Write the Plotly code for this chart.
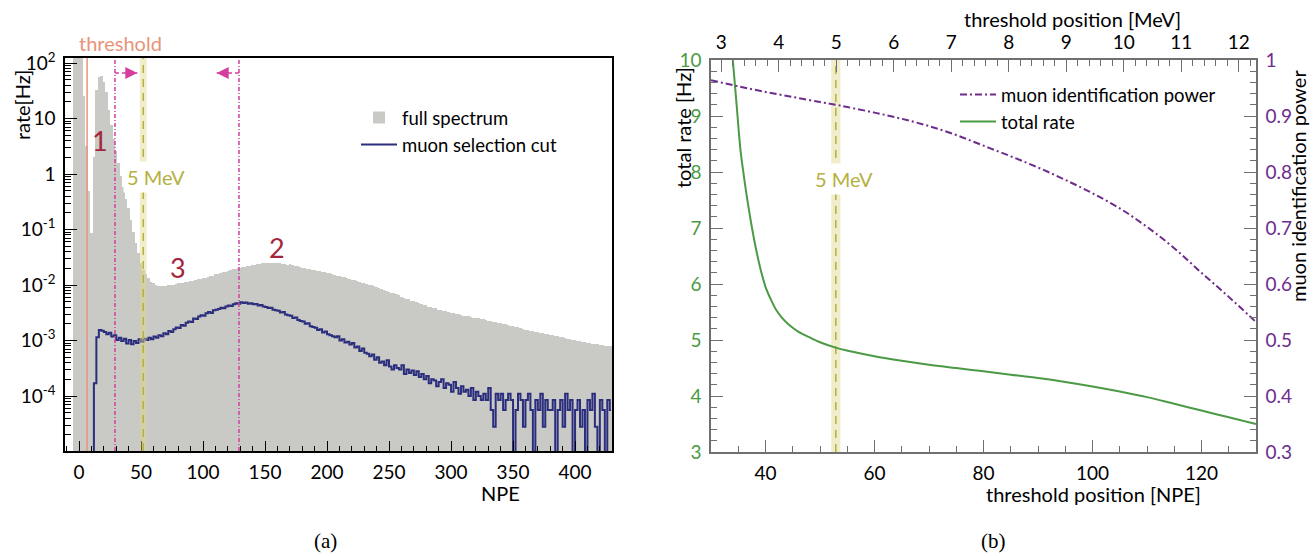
import math
import plotly.graph_objects as go

W, H = 1316, 556
FONT = "Lato"

# ---------------- panel (a): NPE spectrum ----------------
full_first_npe = -4        # centre of first bin
full_bin_npe = 2
full_spectrum = [
    500, 500, 500, 160, 25, 3.2, 0.5, 0.085, 2.0, 32,
    55, 59, 45, 30, 14, 7.6, 4.2, 2.6, 1.6, 0.93,
    0.58, 0.36, 0.24, 0.148, 0.091, 0.058, 0.037, 0.025, 0.019, 0.0158,
    0.0132, 0.0115, 0.0107, 0.0100, 0.0098, 0.0096, 0.0097, 0.0098, 0.0100, 0.0102,
    0.0102, 0.0104, 0.0107, 0.0109, 0.0110, 0.0112, 0.0115, 0.0117, 0.0117, 0.0123,
    0.0126, 0.0129, 0.0132, 0.0135, 0.0141, 0.0145, 0.0148, 0.0155, 0.0158, 0.0166,
    0.0170, 0.0174, 0.0178, 0.0186, 0.0191, 0.0195, 0.0200, 0.0204, 0.0209, 0.0214,
    0.0219, 0.0223, 0.0229, 0.0234, 0.0239, 0.0241, 0.0245, 0.0247, 0.0251, 0.0250,
    0.0252, 0.0246, 0.0248, 0.0245, 0.0240, 0.0242, 0.0234, 0.0236, 0.0229, 0.0224,
    0.0219, 0.0209, 0.0204, 0.0200, 0.0197, 0.0191, 0.0188, 0.0183, 0.0180, 0.0176,
    0.0175, 0.0170, 0.0166, 0.0163, 0.0158, 0.0153, 0.0148, 0.0145, 0.0141, 0.0137,
    0.0132, 0.0127, 0.0123, 0.0121, 0.0116, 0.0114, 0.0111, 0.0110, 0.0106, 0.0102,
    0.0099, 0.0095, 0.0091, 0.0088, 0.0085, 0.0081, 0.0079, 0.0076, 0.0073, 0.0071,
    0.0068, 0.0065, 0.0062, 0.0059, 0.0057, 0.0055, 0.0052, 0.0051, 0.0049, 0.0048,
    0.0046, 0.0044, 0.0043, 0.0041, 0.0040, 0.0038, 0.0038, 0.0036, 0.0035, 0.0034,
    0.00335, 0.00324, 0.00316, 0.00309, 0.00302, 0.00295, 0.00288, 0.00282, 0.00275, 0.00272,
    0.00266, 0.00260, 0.00257, 0.00251, 0.00245, 0.00240, 0.00234, 0.00229, 0.00224, 0.00219,
    0.00214, 0.00209, 0.00204, 0.00200, 0.00195, 0.00191, 0.00184, 0.00180, 0.00176, 0.00172,
    0.00166, 0.00162, 0.00158, 0.00155, 0.00151, 0.00148, 0.00145, 0.00141, 0.00138, 0.00136,
    0.00133, 0.00130, 0.00127, 0.00124, 0.00122, 0.00119, 0.00116, 0.00114, 0.00111, 0.00108,
    0.00106, 0.00104, 0.00102, 0.00100, 0.00098, 0.00095, 0.00093, 0.00091, 0.00090, 0.00088,
    0.00086, 0.00085, 0.00083, 0.00082, 0.00081, 0.00080, 0.00079, 0.00079,
]

muon_first_npe = 11
muon_bin_npe = 2
muon_cut = [
    0, 1.7e-4, 1.15e-3, 1.55e-3, 1.5e-3, 1.42e-3, 1.3e-3, 1.38e-3, 1.18e-3, 1.25e-3,
    1.02e-3, 1.12e-3, 0.98e-3, 1.08e-3, 0.88e-3, 1.02e-3, 0.86e-3, 0.98e-3, 0.9e-3, 1.05e-3,
    0.95e-3, 1.08e-3, 1.02e-3, 1.12e-3, 1.06e-3, 1.18e-3, 1.12e-3, 1.25e-3, 1.2e-3, 1.35e-3,
    1.3e-3, 1.48e-3, 1.42e-3, 1.6e-3, 1.72e-3, 1.68e-3, 1.9e-3, 1.85e-3, 2.1e-3, 2.2e-3,
    2.15e-3, 2.5e-3, 2.45e-3, 2.7e-3, 2.85e-3, 2.8e-3, 3.1e-3, 3.25e-3, 3.15e-3, 3.5e-3,
    3.6e-3, 3.7e-3, 3.9e-3, 3.8e-3, 4.1e-3, 4.3e-3, 4.2e-3, 4.5e-3, 4.7e-3, 4.6e-3,
    4.9e-3, 4.75e-3, 4.85e-3, 4.6e-3, 4.7e-3, 4.5e-3, 4.55e-3, 4.3e-3, 4.35e-3, 4.1e-3,
    4.0e-3, 3.85e-3, 3.9e-3, 3.6e-3, 3.5e-3, 3.45e-3, 3.2e-3, 3.25e-3, 2.95e-3, 2.85e-3,
    2.8e-3, 2.55e-3, 2.6e-3, 2.35e-3, 2.25e-3, 2.2e-3, 2.0e-3, 2.05e-3, 1.8e-3, 1.75e-3,
    1.7e-3, 1.55e-3, 1.6e-3, 1.4e-3, 1.45e-3, 1.3e-3, 1.25e-3, 1.2e-3, 1.15e-3, 1.2e-3,
    1.0e-3, 1.05e-3, 0.92e-3, 0.95e-3, 0.85e-3, 0.9e-3, 0.75e-3, 0.78e-3, 0.65e-3, 0.72e-3,
    0.6e-3, 0.58e-3, 0.52e-3, 0.56e-3, 0.45e-3, 0.5e-3, 0.4e-3, 0.42e-3, 0.36e-3, 0.44e-3,
    0.34e-3, 0.3e-3, 0.36e-3, 0.32e-3, 0.3e-3, 0.36e-3, 0.25e-3, 0.3e-3, 0.26e-3, 0.29e-3,
    0.24e-3, 0.28e-3, 0.22e-3, 0.25e-3, 0.2e-3, 0.23e-3, 0.17e-3, 0.2e-3, 0.19e-3, 0.15e-3,
    0.18e-3, 0.2e-3, 0.14e-3, 0.17e-3, 0.16e-3, 0.12e-3, 0.18e-3, 0.14e-3, 0.11e-3, 0.15e-3,
    0.12e-3, 0.13e-3, 0.1e-3, 0.14e-3, 0.085e-3, 0.12e-3, 0.1e-3, 0.085e-3, 0.11e-3, 0.085e-3,
    0.14e-3, 0.056e-3, 0.028e-3, 0.11e-3, 0.085e-3, 0.11e-3, 0.056e-3, 0.085e-3, 0.11e-3, 0.085e-3,
    0, 0.056e-3, 0.11e-3, 0.085e-3, 0.028e-3, 0.085e-3, 0.11e-3, 0.056e-3, 0, 0.085e-3,
    0.056e-3, 0.11e-3, 0.028e-3, 0.085e-3, 0.056e-3, 0.056e-3, 0.085e-3, 0, 0.056e-3, 0.085e-3,
    0.028e-3, 0.11e-3, 0.056e-3, 0.085e-3, 0, 0.056e-3, 0.085e-3, 0.028e-3, 0.056e-3, 0,
    0.085e-3, 0.056e-3, 0.11e-3, 0.028e-3, 0, 0.085e-3, 0.056e-3, 0, 0.085e-3, 0.056e-3,
]

threshold_npe = 6.5
cut_npe = [29, 129]
cut_arrow_head_npe = [47, 111]
mev5_npe_a = 51.8
mev5_band_a = 5.6
xtick_vals_a = [0, 50, 100, 150, 200, 250, 300, 350, 400]
ytick_vals_a = [1e-4, 1e-3, 1e-2, 1e-1, 1, 10, 100]
ytick_text_a = ["10<sup>-4</sup>", "10<sup>-3</sup>", "10<sup>-2</sup>",
                "10<sup>-1</sup>", "1", "10", "10<sup>2</sup>"]
region_labels = ["1", "3", "2"]
region_npe = [17, 80, 160]
region_rate = [4.1, 0.0203, 0.047]

# ---------------- panel (b): threshold scan ----------------
thr_npe_rate = [33.5, 34, 34.7, 35.4, 36, 37, 38, 39, 40, 41, 42, 43, 44, 45, 46, 48, 50,
                53, 56, 60, 65, 70, 75, 80, 85, 90, 95, 100, 105, 110, 115, 120, 125, 130]
total_rate = [10.6, 10.0, 9.2, 8.4, 7.95, 7.3, 6.75, 6.3, 5.95, 5.72, 5.53, 5.40, 5.30, 5.22,
              5.15, 5.05, 4.96, 4.86, 4.79, 4.71, 4.63, 4.56, 4.50, 4.44, 4.38, 4.32, 4.25,
              4.17, 4.08, 3.98, 3.86, 3.74, 3.62, 3.50]
thr_npe_power = [30, 35, 40, 45, 50, 53, 55, 60, 65, 70, 75, 80, 85, 90, 95, 100, 105,
                 110, 115, 120, 125, 130]
muon_id_power = [0.964, 0.953, 0.943, 0.934, 0.925, 0.920, 0.916, 0.906, 0.895, 0.882,
                 0.866, 0.847, 0.828, 0.808, 0.786, 0.762, 0.735, 0.702, 0.664, 0.620,
                 0.577, 0.532]
mev5_npe_b = 52.9
mev5_band_b = 1.7
mev_ticks = [3, 4, 5, 6, 7, 8, 9, 10, 11, 12]

# ---------------- colours ----------------
GRAY = "#c9c9c5"
NAVY = "#2b2e7d"
MAGENTA = "#d43f9e"
SALMON = "#e8937a"
OLIVE = "#b5b040"
BAND = "rgba(222,216,140,0.45)"
RED = "#a3263a"
GREEN = "#4b9a45"
PURPLE = "#6e2c8c"
AXGRAY = "#707070"


def px(x):
    return x / W


def py(y):
    return 1 - y / H


fig = go.Figure()

# panel (a) traces
full_x = [full_first_npe + full_bin_npe * i for i in range(len(full_spectrum))]
fig.add_trace(go.Bar(x=full_x, y=full_spectrum, width=full_bin_npe, marker_color=GRAY,
                     marker_line_width=0, name="full spectrum", xaxis="x", yaxis="y",
                     legend="legend"))
muon_x = [muon_first_npe + muon_bin_npe * i for i in range(len(muon_cut))]
muon_plot = [v if v > 0 else 1e-7 for v in muon_cut]
fig.add_trace(go.Scatter(x=muon_x, y=muon_plot, mode="lines", line_shape="hvh",
                         line=dict(color=NAVY, width=2), name="muon selection cut",
                         xaxis="x", yaxis="y", legend="legend"))

# panel (b) traces
fig.add_trace(go.Scatter(x=thr_npe_power, y=muon_id_power, mode="lines",
                         line=dict(color=PURPLE, width=2, dash="7px,3px,2px,3px"),
                         line_shape="spline",
                         name="muon identification power", xaxis="x2", yaxis="y3",
                         legend="legend2"))
fig.add_trace(go.Scatter(x=thr_npe_rate, y=total_rate, mode="lines",
                         line=dict(color=GREEN, width=2), line_shape="spline",
                         name="total rate",
                         xaxis="x2", yaxis="y2", legend="legend2"))
fig.add_trace(go.Scatter(x=mev_ticks, y=[None] * len(mev_ticks), mode="lines",
                         showlegend=False, hoverinfo="skip", xaxis="x3", yaxis="y2"))

TS = 19
tickfont = dict(family=FONT, size=TS, color="black")

# axis geometry (pixels)
A_L, A_R, A_T, A_B = 65, 612, 58, 451
B_L, B_R, B_T, B_B = 711, 1256, 60, 452

common = dict(showgrid=False, zeroline=False, automargin=False)

fig.update_layout(
    width=W, height=H, autosize=False,
    margin=dict(l=0, r=0, t=0, b=0, pad=0, autoexpand=False),
    paper_bgcolor="white", plot_bgcolor="white",
    bargap=0, barmode="overlay",
    font=dict(family=FONT, size=18, color="black"),
    xaxis=dict(domain=[px(A_L), px(A_R)], anchor="y", range=[-11.3, 429.8],
               tickvals=xtick_vals_a, ticks="inside", ticklen=10, tickwidth=1.2,
               tickcolor="black", showline=True, linecolor="black", linewidth=1.5,
               mirror=True, tickfont=tickfont,
               minor=dict(ticks="inside", ticklen=5, dtick=10, tick0=0, tickcolor="black",
                          showgrid=False),
               ticklabelstandoff=3, **common),
    yaxis=dict(domain=[py(A_B), py(A_T)], anchor="x", type="log", range=[-4.99, 2.09],
               tickvals=ytick_vals_a, ticktext=ytick_text_a, ticks="inside", ticklen=12,
               tickwidth=1.2, tickcolor="black", showline=True, linecolor="black",
               linewidth=1.5, mirror=True, tickfont=tickfont,
               minor=dict(ticks="inside", ticklen=6, dtick="D1", tickcolor="black",
                          showgrid=False),
               ticklabelstandoff=4, **common),
    xaxis2=dict(domain=[px(B_L), px(B_R)], anchor="y2", range=[30, 130], dtick=20,
                tick0=0, ticks="inside", ticklen=12, tickwidth=1.2, tickcolor=AXGRAY,
                showline=True, linecolor=AXGRAY, linewidth=1.5, tickfont=tickfont,
                minor=dict(ticks="inside", ticklen=6, dtick=5, tick0=0, tickcolor=AXGRAY,
                           showgrid=False),
                ticklabelstandoff=3, **common),
    xaxis3=dict(overlaying="x2", anchor="y2", side="top", range=[2.82, 12.30], dtick=1,
                tick0=0, ticks="inside", ticklen=12, tickwidth=1.2, tickcolor=AXGRAY,
                showline=True, linecolor=AXGRAY, linewidth=1.5, tickfont=tickfont,
                minor=dict(ticks="inside", ticklen=6, dtick=0.2, tick0=0, tickcolor=AXGRAY,
                           showgrid=False),
                ticklabelstandoff=2, **common),
    yaxis2=dict(domain=[py(B_B), py(B_T)], anchor="x2", range=[3, 10], dtick=1, tick0=0,
                ticks="inside", ticklen=12, tickwidth=1.2, tickcolor=AXGRAY,
                showline=True, linecolor=AXGRAY, linewidth=1.5,
                tickfont=dict(family=FONT, size=TS, color=GREEN),
                minor=dict(ticks="inside", ticklen=6, dtick=0.2, tick0=0, tickcolor=AXGRAY,
                           showgrid=False),
                ticklabelstandoff=4, **common),
    yaxis3=dict(overlaying="y2", anchor="x2", side="right", range=[0.3, 1.0], dtick=0.1,
                tick0=0, ticks="inside", ticklen=12, tickwidth=1.2, tickcolor=AXGRAY,
                showline=True, linecolor=AXGRAY, linewidth=1.5,
                tickfont=dict(family=FONT, size=TS, color=PURPLE),
                minor=dict(ticks="inside", ticklen=6, dtick=0.02, tick0=0,
                           tickcolor=AXGRAY, showgrid=False),
                ticklabelstandoff=4, **common),
    legend=dict(x=px(356), y=py(99), xanchor="left", yanchor="top",
                bgcolor="rgba(0,0,0,0)", font=dict(family=FONT, size=18.5),
                itemwidth=36, tracegroupgap=0),
    legend2=dict(x=px(955), y=py(76), xanchor="left", yanchor="top",
                 bgcolor="rgba(0,0,0,0)", font=dict(family=FONT, size=18.5),
                 itemwidth=36, tracegroupgap=0),
)

shapes = []
# panel (a) overlays
shapes.append(dict(type="line", xref="x", yref="y domain", x0=threshold_npe, x1=threshold_npe,
                   y0=0, y1=1, line=dict(color=SALMON, width=1.5), layer="above"))
shapes.append(dict(type="rect", xref="x", yref="y domain",
                   x0=mev5_npe_a - mev5_band_a / 2, x1=mev5_npe_a + mev5_band_a / 2,
                   y0=0, y1=1, fillcolor=BAND, line_width=0, layer="above"))
shapes.append(dict(type="line", xref="x", yref="y domain", x0=mev5_npe_a, x1=mev5_npe_a,
                   y0=0, y1=1, line=dict(color=OLIVE, width=1.5, dash="8px,6px"),
                   layer="above"))
arrow_y = 1 - (73 - A_T) / (A_B - A_T)
for c, h in zip(cut_npe, cut_arrow_head_npe):
    shapes.append(dict(type="line", xref="x", yref="y domain", x0=c, x1=c, y0=0, y1=1,
                       line=dict(color=MAGENTA, width=1.5, dash="4px,2px,1px,2px"),
                       layer="above"))
    shapes.append(dict(type="line", xref="x", yref="y domain", x0=c, x1=h, y0=arrow_y,
                       y1=arrow_y, line=dict(color=MAGENTA, width=1.5, dash="4px,3px"),
                       layer="above"))
# panel (b) overlays
shapes.append(dict(type="rect", xref="x2", yref="y2 domain",
                   x0=mev5_npe_b - mev5_band_b / 2, x1=mev5_npe_b + mev5_band_b / 2,
                   y0=0, y1=1, fillcolor=BAND, line_width=0, layer="below"))
shapes.append(dict(type="line", xref="x2", yref="y2 domain", x0=mev5_npe_b, x1=mev5_npe_b,
                   y0=0, y1=1, line=dict(color=OLIVE, width=1.5, dash="8px,6px"),
                   layer="below"))
fig.update_layout(shapes=shapes)

ann = []
CM = dict(xanchor="center", yanchor="middle", showarrow=False)
# arrow heads
for c, h in zip(cut_npe, cut_arrow_head_npe):
    direction = 1 if h > c else -1
    ann.append(dict(x=h, y=arrow_y, xref="x", yref="y domain", text="", showarrow=True,
                    ax=-10 * direction, ay=0, axref="pixel", ayref="pixel",
                    arrowhead=2, arrowsize=1.6, arrowwidth=1.5, arrowcolor=MAGENTA,
                    standoff=0))
# region labels
for t, xv, yv in zip(region_labels, region_npe, region_rate):
    ann.append(dict(x=xv, y=math.log10(yv), xref="x", yref="y", text=t,
                    font=dict(family=FONT, size=27, color=RED), **CM))
ann.append(dict(x=62, y=-0.05, xref="x", yref="y", text="5 MeV",
                bgcolor="white", borderpad=3, font=dict(family=FONT, size=20, color=OLIVE),
                **CM))
ann.append(dict(x=54.4, y=7.875, xref="x2", yref="y2", text="5 MeV",
                bgcolor="white", borderpad=3, font=dict(family=FONT, size=20, color=OLIVE),
                **CM))
ann.append(dict(x=px(120), y=py(43), xref="paper", yref="paper", text="threshold",
                font=dict(family=FONT, size=20, color=SALMON), **CM))
# axis titles
TT = 20
ann.append(dict(x=px(22), y=py(105), xref="paper", yref="paper", text="rate[Hz]",
                textangle=-90, font=dict(family=FONT, size=TT), **CM))
ann.append(dict(x=px(500), y=py(493), xref="paper", yref="paper", text="NPE",
                borderpad=0, font=dict(family=FONT, size=TT), **CM))
ann.append(dict(x=px(1093), y=py(494), xref="paper", yref="paper",
                text="threshold position [NPE]", borderpad=0,
                font=dict(family=FONT, size=TT), **CM))
ann.append(dict(x=px(1072), y=py(19), xref="paper", yref="paper",
                text="threshold position [MeV]", font=dict(family=FONT, size=TT), **CM))
ann.append(dict(x=px(683), y=py(128), xref="paper", yref="paper", text="total rate [Hz]",
                textangle=-90, font=dict(family=FONT, size=TT), **CM))
ann.append(dict(x=px(1298), y=py(186), xref="paper", yref="paper",
                text="muon identification power", textangle=-90,
                font=dict(family=FONT, size=TT), **CM))
# captions
ann.append(dict(x=px(325), y=py(541), xref="paper", yref="paper", text="(a)",
                borderpad=0, font=dict(family="Liberation Serif", size=21), **CM))
ann.append(dict(x=px(993), y=py(541), xref="paper", yref="paper", text="(b)",
                borderpad=0, font=dict(family="Liberation Serif", size=21), **CM))
fig.update_layout(annotations=ann)

fig.write_html("out.html", config={"displayModeBar": False},
               post_script="document.body.style.margin='0';document.body.style.padding='0';")
